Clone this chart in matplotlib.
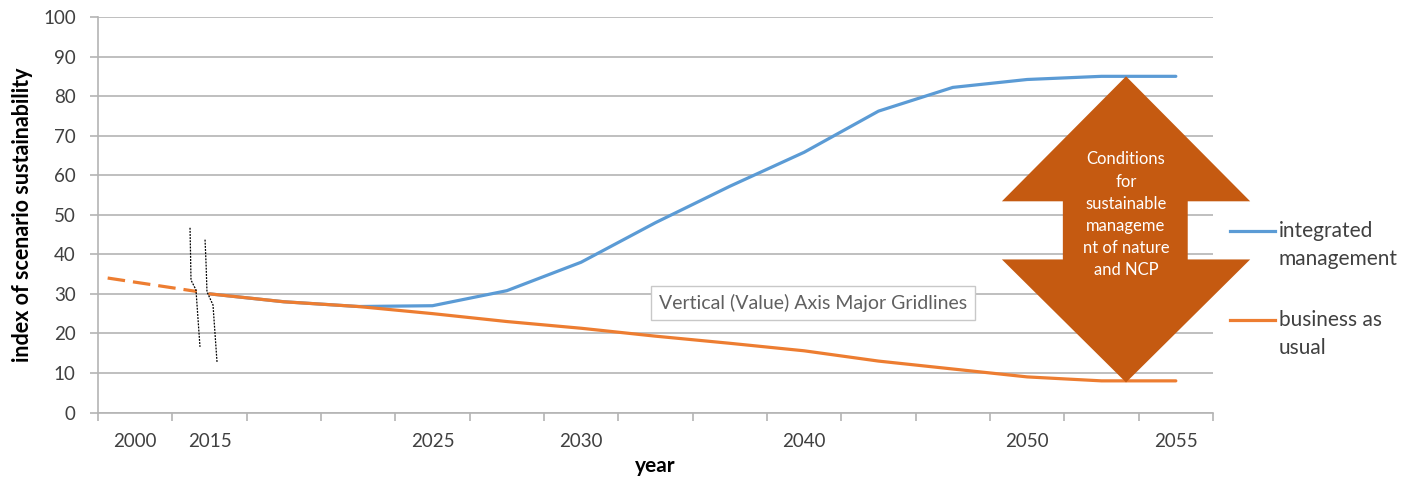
import matplotlib.pyplot as plt
from matplotlib.patches import Polygon
from matplotlib.lines import Line2D

plt.rcParams['font.family'] = ['Lato', 'DejaVu Sans']

# category axis: one slot per step, only some slots carry a year label
year_labels = ['2000', '2015', '', '', '2025', '', '2030', '', '',
               '2040', '', '', '2050', '', '2055']
integrated = [30, 28, 26.8, 27, 30.8, 38, 48, 57.2, 65.8, 76.2, 82.2,
              84.2, 85, 85]
business = [30, 28, 26.8, 25, 23, 21.3, 19.3, 17.5, 15.6, 13, 11,
            9, 8, 8]
# historic stretch before the axis break (dashed)
hist_x = [-0.37, 0.83]
hist_y = [34, 30.6]

blue = '#5B9BD5'
orange = '#ED7D31'
arrow_col = '#C55A11'
grid_col = '#B4B4B4'

fig = plt.figure(figsize=(14.14, 4.83), dpi=100)
ax = fig.add_axes([98 / 1414, 1 - 412.5 / 483, 1115 / 1414, 395.5 / 483])

xs = list(range(1, 1 + len(integrated)))
ax.plot(xs, integrated, color=blue, lw=2.3, zorder=3, solid_capstyle='round')
ax.plot(xs, business, color=orange, lw=2.3, zorder=4, solid_capstyle='round')
ax.plot(hist_x, hist_y, color=orange, lw=2.3, ls=(0, (5.5, 2.5)), zorder=4)

# hand-drawn axis break marks
brk1_x = [0.738, 0.745, 0.751, 0.818, 0.872]
brk1_y = [46.7, 40.0, 33.5, 31.0, 16.6]
brk2_x = [0.940, 0.955, 0.966, 1.047, 1.101]
brk2_y = [43.7, 37.0, 30.5, 27.2, 12.8]
for bx, by in [(brk1_x, brk1_y), (brk2_x, brk2_y)]:
    ax.plot(bx, by, color='black', lw=0.9, ls=(0, (1.5, 1)), zorder=5)

ax.set_xlim(-0.5, len(year_labels) - 0.5)
ax.set_ylim(0, 100)
ax.set_yticks(range(0, 101, 10))
ax.yaxis.grid(True, color=grid_col, lw=1.2)
ax.set_axisbelow(True)

ax.set_xticks(range(len(year_labels)))
ax.set_xticklabels(year_labels)
ax.set_xticks([i - 0.5 for i in range(len(year_labels) + 1)], minor=True)
ax.tick_params(axis='x', which='major', length=0, pad=15, labelsize=13.5,
               labelcolor='#404040')
ax.tick_params(axis='x', which='minor', length=6, color=grid_col, width=1.2)
ax.tick_params(axis='y', length=6, color=grid_col, width=1.2, pad=10,
               labelsize=13.5, labelcolor='#404040')

for side in ['top', 'right']:
    ax.spines[side].set_visible(False)
for side in ['left', 'bottom']:
    ax.spines[side].set_color(grid_col)
    ax.spines[side].set_linewidth(1.2)

ax.set_ylabel('index of scenario sustainability', fontsize=15.5,
              fontweight='bold')
ax.yaxis.set_label_coords(-0.058, 0.5)
ax.set_xlabel('year', fontsize=15, fontweight='bold', labelpad=4)

# double-headed arrow between the two end states
ax_x = 13.33
top = integrated[-1]
bot = business[-1] - 0.4
head_l, head_r = 11.66, 15.0
shaft_l, shaft_r = 12.48, 14.16
upper_base, lower_base = 53.4, 38.7
arrow = Polygon([(ax_x, top), (head_r, upper_base), (shaft_r, upper_base),
                 (shaft_r, lower_base), (head_r, lower_base), (ax_x, bot),
                 (head_l, lower_base), (shaft_l, lower_base),
                 (shaft_l, upper_base), (head_l, upper_base)],
                closed=True, facecolor=arrow_col, edgecolor='none',
                zorder=6, clip_on=False)
ax.add_patch(arrow)
arrow_lines = ['Conditions', 'for', 'sustainable', 'manageme',
               'nt of nature', 'and NCP']
for k, line in enumerate(arrow_lines):
    ax.text(ax_x, 64.0 - k * 5.6, line, color='white', fontsize=12,
            ha='center', va='center', zorder=7)

# tooltip left on the chart
ax.text(9.12, 27.7, 'Vertical (Value) Axis Major Gridlines', fontsize=14,
        color='#606060', ha='center', va='center', zorder=8,
        bbox=dict(boxstyle='square,pad=0.4', facecolor='white',
                  edgecolor='#C8C8C8', lw=1.0))

# legend, drawn beside the plot
def fx(px):
    return px / 1414

def fy(py):
    return 1 - py / 483

for col, py, lines in [(blue, 231, ['integrated', 'management']),
                       (orange, 320, ['business as', 'usual'])]:
    fig.add_artist(Line2D([fx(1230), fx(1275)], [fy(py), fy(py)],
                          color=col, lw=2.3))
    for k, t in enumerate(lines):
        fig.text(fx(1279), fy(py + k * 28), t, fontsize=15, color='#404040',
                 ha='left', va='center')

fig.savefig('out.png', dpi=100)
